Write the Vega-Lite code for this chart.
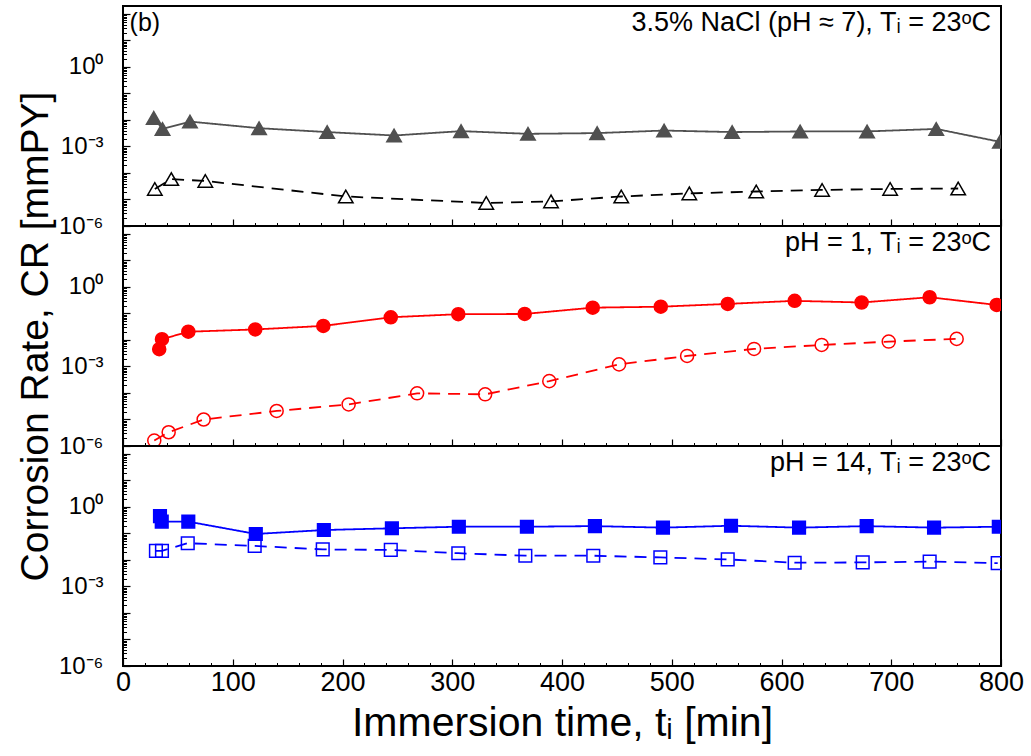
{
  "$schema": "https://vega.github.io/schema/vega-lite/v6.json",
  "background": "white",
  "padding": {"left": 15, "top": 0, "right": 5, "bottom": 5},
  "bounds": "flush",
  "spacing": 0,
  "resolve": {"scale": {"color": "independent", "fill": "independent", "stroke": "independent", "strokeDash": "independent"}},
  "config": {
    "font": "Liberation Sans",
    "view": {"stroke": "black", "strokeWidth": 2},
    "axis": {"domain": false, "grid": false, "tickColor": "black", "labelColor": "black", "titleColor": "black", "labelFont": "Liberation Sans", "titleFont": "Liberation Sans", "titleFontWeight": "normal", "labelOverlap": false, "labelBound": false, "labelFlush": false}
  },
  "datasets": {
    "nacl": [
      {"t": 28, "cr": 0.012, "s": "filled"}, {"t": 36, "cr": 0.0046, "s": "filled"}, {"t": 61, "cr": 0.0087, "s": "filled"}, {"t": 124, "cr": 0.0049, "s": "filled"}, {"t": 186, "cr": 0.0035, "s": "filled"}, {"t": 247, "cr": 0.0026, "s": "filled"}, {"t": 308, "cr": 0.0038, "s": "filled"}, {"t": 369, "cr": 0.003, "s": "filled"}, {"t": 432, "cr": 0.0032, "s": "filled"}, {"t": 493, "cr": 0.004, "s": "filled"}, {"t": 555, "cr": 0.0035, "s": "filled"}, {"t": 617, "cr": 0.0037, "s": "filled"}, {"t": 678, "cr": 0.0037, "s": "filled"}, {"t": 741, "cr": 0.0046, "s": "filled"}, {"t": 799, "cr": 0.0015, "s": "filled"},
      {"t": 29, "cr": 0.000025, "s": "open"}, {"t": 44, "cr": 0.000059, "s": "open"}, {"t": 75, "cr": 0.00005, "s": "open"}, {"t": 203, "cr": 0.000013, "s": "open"}, {"t": 331, "cr": 0.0000074, "s": "open"}, {"t": 390, "cr": 0.0000085, "s": "open"}, {"t": 454, "cr": 0.000013, "s": "open"}, {"t": 516, "cr": 0.000017, "s": "open"}, {"t": 577, "cr": 0.00002, "s": "open"}, {"t": 637, "cr": 0.000023, "s": "open"}, {"t": 699, "cr": 0.000025, "s": "open"}, {"t": 761, "cr": 0.000026, "s": "open"}
    ],
    "ph1": [
      {"t": 33, "cr": 0.0045, "s": "filled"}, {"t": 35.5, "cr": 0.0107, "s": "filled"}, {"t": 59.5, "cr": 0.0205, "s": "filled"}, {"t": 120.5, "cr": 0.025, "s": "filled"}, {"t": 182.5, "cr": 0.034, "s": "filled"}, {"t": 244, "cr": 0.072, "s": "filled"}, {"t": 305.5, "cr": 0.094, "s": "filled"}, {"t": 366, "cr": 0.096, "s": "filled"}, {"t": 428, "cr": 0.166, "s": "filled"}, {"t": 490, "cr": 0.18, "s": "filled"}, {"t": 551, "cr": 0.23, "s": "filled"}, {"t": 612, "cr": 0.3, "s": "filled"}, {"t": 673, "cr": 0.26, "s": "filled"}, {"t": 735, "cr": 0.41, "s": "filled"}, {"t": 796, "cr": 0.21, "s": "filled"},
      {"t": 28.5, "cr": 0.0000016, "s": "open"}, {"t": 41.6, "cr": 0.0000033, "s": "open"}, {"t": 73.5, "cr": 0.00001, "s": "open"}, {"t": 140, "cr": 0.000021, "s": "open"}, {"t": 205.6, "cr": 0.000037, "s": "open"}, {"t": 268, "cr": 0.000097, "s": "open"}, {"t": 330, "cr": 0.000089, "s": "open"}, {"t": 388.4, "cr": 0.00028, "s": "open"}, {"t": 452, "cr": 0.0012, "s": "open"}, {"t": 514, "cr": 0.0025, "s": "open"}, {"t": 575, "cr": 0.0046, "s": "open"}, {"t": 636.6, "cr": 0.0065, "s": "open"}, {"t": 697.7, "cr": 0.0087, "s": "open"}, {"t": 759.6, "cr": 0.011, "s": "open"}
    ],
    "ph14": [
      {"t": 33.7, "cr": 0.45, "s": "filled"}, {"t": 35.3, "cr": 0.28, "s": "filled"}, {"t": 59.5, "cr": 0.28, "s": "filled"}, {"t": 121, "cr": 0.096, "s": "filled"}, {"t": 183, "cr": 0.135, "s": "filled"}, {"t": 245, "cr": 0.157, "s": "filled"}, {"t": 306, "cr": 0.18, "s": "filled"}, {"t": 368, "cr": 0.18, "s": "filled"}, {"t": 430, "cr": 0.19, "s": "filled"}, {"t": 492, "cr": 0.166, "s": "filled"}, {"t": 554, "cr": 0.196, "s": "filled"}, {"t": 616, "cr": 0.166, "s": "filled"}, {"t": 677.6, "cr": 0.19, "s": "filled"}, {"t": 739, "cr": 0.166, "s": "filled"}, {"t": 798, "cr": 0.18, "s": "filled"},
      {"t": 30, "cr": 0.022, "s": "open"}, {"t": 35.5, "cr": 0.022, "s": "open"}, {"t": 59, "cr": 0.043, "s": "open"}, {"t": 120, "cr": 0.034, "s": "open"}, {"t": 182, "cr": 0.025, "s": "open"}, {"t": 244, "cr": 0.024, "s": "open"}, {"t": 305.5, "cr": 0.018, "s": "open"}, {"t": 366.6, "cr": 0.0145, "s": "open"}, {"t": 428.5, "cr": 0.0145, "s": "open"}, {"t": 489.6, "cr": 0.0125, "s": "open"}, {"t": 551, "cr": 0.0105, "s": "open"}, {"t": 612, "cr": 0.0079, "s": "open"}, {"t": 674, "cr": 0.0081, "s": "open"}, {"t": 735, "cr": 0.0087, "s": "open"}, {"t": 797, "cr": 0.0076, "s": "open"}
    ]
  },
  "vconcat": [
    {
      "width": 878, "height": 220,
      "data": {"name": "nacl"},
      "resolve": {"axis": {"x": "independent", "y": "independent"}},
      "layer": [
        {
          "mark": {"type": "line", "strokeWidth": 1.8, "clip": true},
          "encoding": {
            "x": {"field": "t", "type": "quantitative", "scale": {"domain": [0, 800], "nice": false, "zero": false}, "axis": {"orient": "bottom", "values": [0, 100, 200, 300, 400, 500, 600, 700, 800], "labels": false, "tickSize": -7, "tickWidth": 1.2, "title": null}},
            "y": {"field": "cr", "type": "quantitative", "scale": {"type": "log", "domain": [0.000001, 200], "nice": false}, "axis": {"orient": "left", "values": [0.000001, 0.00001, 0.0001, 0.001, 0.01, 0.1, 1, 10, 100], "tickSize": -7, "tickWidth": 1.2, "labelFontSize": 24, "labelPadding": 27, "labelExpr": "datum.value === 1 ? '10⁰' : datum.value === 0.001 ? '10⁻³' : datum.value === 0.000001 ? '10⁻⁶' : ''", "title": null}},
            "color": {"field": "s", "type": "nominal", "scale": {"domain": ["filled", "open"], "range": ["#505050", "#000000"]}, "legend": null},
            "strokeDash": {"field": "s", "type": "nominal", "scale": {"domain": ["filled", "open"], "range": [[1, 0], [12, 8]]}, "legend": null}
          }
        },
        {
          "mark": {"type": "point", "shape": "triangle-up", "size": 210, "strokeWidth": 1.5, "opacity": 1, "clip": true},
          "encoding": {
            "x": {"field": "t", "type": "quantitative", "axis": {"orient": "bottom", "values": [20, 40, 60, 80, 120, 140, 160, 180, 220, 240, 260, 280, 320, 340, 360, 380, 420, 440, 460, 480, 520, 540, 560, 580, 620, 640, 660, 680, 720, 740, 760, 780], "labels": false, "tickSize": -3.5, "tickWidth": 1, "title": null}},
            "y": {"field": "cr", "type": "quantitative", "axis": {"orient": "left", "values": [0.000002, 0.000003, 0.000004, 0.000005, 0.000006, 0.000007, 0.000008, 0.000009, 0.00002, 0.00003, 0.00004, 0.00005, 0.00006, 0.00007, 0.00008, 0.00009, 0.0002, 0.0003, 0.0004, 0.0005, 0.0006, 0.0007, 0.0008, 0.0009, 0.002, 0.003, 0.004, 0.005, 0.006, 0.007, 0.008, 0.009, 0.02, 0.03, 0.04, 0.05, 0.06, 0.07, 0.08, 0.09, 0.2, 0.3, 0.4, 0.5, 0.6, 0.7, 0.8, 0.9, 2, 3, 4, 5, 6, 7, 8, 9, 20, 30, 40, 50, 60, 70, 80, 90], "labels": false, "tickSize": -3.5, "tickWidth": 1, "title": null}},
            "fill": {"field": "s", "type": "nominal", "scale": {"domain": ["filled", "open"], "range": ["#505050", "transparent"]}, "legend": null},
            "stroke": {"field": "s", "type": "nominal", "scale": {"domain": ["filled", "open"], "range": ["#505050", "#000000"]}, "legend": null}
          }
        },
        {
          "data": {"values": [{"label": "3.5% NaCl (pH ≈ 7), Tᵢ = 23ᵒC"}]},
          "mark": {"type": "text", "align": "right", "baseline": "middle", "fontSize": 27, "font": "Liberation Sans", "color": "black"},
          "encoding": {"x": {"datum": 791, "axis": null}, "y": {"datum": 45, "axis": null}, "text": {"field": "label"}}
        },
        {
          "data": {"values": [{"label": "(b)"}]},
          "mark": {"type": "text", "align": "left", "baseline": "middle", "fontSize": 25, "font": "Liberation Sans", "color": "black"},
          "encoding": {"x": {"datum": 6, "axis": null}, "y": {"datum": 45, "axis": null}, "text": {"field": "label"}}
        }
      ]
    },
    {
      "width": 878, "height": 220,
      "data": {"name": "ph1"},
      "resolve": {"axis": {"x": "independent", "y": "independent"}},
      "layer": [
        {
          "mark": {"type": "line", "strokeWidth": 1.8, "clip": true},
          "encoding": {
            "x": {"field": "t", "type": "quantitative", "scale": {"domain": [0, 800], "nice": false, "zero": false}, "axis": {"orient": "bottom", "values": [0, 100, 200, 300, 400, 500, 600, 700, 800], "labels": false, "tickSize": -7, "tickWidth": 1.2, "title": null}},
            "y": {"field": "cr", "type": "quantitative", "scale": {"type": "log", "domain": [0.000001, 200], "nice": false}, "axis": {"orient": "left", "values": [0.000001, 0.00001, 0.0001, 0.001, 0.01, 0.1, 1, 10, 100], "tickSize": -7, "tickWidth": 1.2, "labelFontSize": 24, "labelPadding": 27, "labelExpr": "datum.value === 1 ? '10⁰' : datum.value === 0.001 ? '10⁻³' : datum.value === 0.000001 ? '10⁻⁶' : ''", "title": "Corrosion Rate, CR [mmPY]", "titleFontSize": 39, "titlePadding": 3}},
            "color": {"field": "s", "type": "nominal", "scale": {"domain": ["filled", "open"], "range": ["#ff0000", "#ff0000"]}, "legend": null},
            "strokeDash": {"field": "s", "type": "nominal", "scale": {"domain": ["filled", "open"], "range": [[1, 0], [12, 8]]}, "legend": null}
          }
        },
        {
          "mark": {"type": "point", "shape": "circle", "size": 170, "strokeWidth": 1.5, "opacity": 1, "clip": true},
          "encoding": {
            "x": {"field": "t", "type": "quantitative", "axis": {"orient": "bottom", "values": [20, 40, 60, 80, 120, 140, 160, 180, 220, 240, 260, 280, 320, 340, 360, 380, 420, 440, 460, 480, 520, 540, 560, 580, 620, 640, 660, 680, 720, 740, 760, 780], "labels": false, "tickSize": -3.5, "tickWidth": 1, "title": null}},
            "y": {"field": "cr", "type": "quantitative", "axis": {"orient": "left", "values": [0.000002, 0.000003, 0.000004, 0.000005, 0.000006, 0.000007, 0.000008, 0.000009, 0.00002, 0.00003, 0.00004, 0.00005, 0.00006, 0.00007, 0.00008, 0.00009, 0.0002, 0.0003, 0.0004, 0.0005, 0.0006, 0.0007, 0.0008, 0.0009, 0.002, 0.003, 0.004, 0.005, 0.006, 0.007, 0.008, 0.009, 0.02, 0.03, 0.04, 0.05, 0.06, 0.07, 0.08, 0.09, 0.2, 0.3, 0.4, 0.5, 0.6, 0.7, 0.8, 0.9, 2, 3, 4, 5, 6, 7, 8, 9, 20, 30, 40, 50, 60, 70, 80, 90], "labels": false, "tickSize": -3.5, "tickWidth": 1, "title": null}},
            "fill": {"field": "s", "type": "nominal", "scale": {"domain": ["filled", "open"], "range": ["#ff0000", "transparent"]}, "legend": null},
            "stroke": {"field": "s", "type": "nominal", "scale": {"domain": ["filled", "open"], "range": ["#ff0000", "#ff0000"]}, "legend": null}
          }
        },
        {
          "data": {"values": [{"label": "pH = 1, Tᵢ = 23ᵒC"}]},
          "mark": {"type": "text", "align": "right", "baseline": "middle", "fontSize": 27, "font": "Liberation Sans", "color": "black"},
          "encoding": {"x": {"datum": 791, "axis": null}, "y": {"datum": 45, "axis": null}, "text": {"field": "label"}}
        }
      ]
    },
    {
      "width": 878, "height": 220,
      "data": {"name": "ph14"},
      "resolve": {"axis": {"x": "independent", "y": "independent"}},
      "layer": [
        {
          "mark": {"type": "line", "strokeWidth": 1.8, "clip": true},
          "encoding": {
            "x": {"field": "t", "type": "quantitative", "scale": {"domain": [0, 800], "nice": false, "zero": false}, "axis": {"orient": "bottom", "values": [0, 100, 200, 300, 400, 500, 600, 700, 800], "labels": true, "labelFontSize": 27, "labelPadding": 10, "tickSize": -7, "tickWidth": 1.2, "title": "Immersion time, tᵢ [min]", "titleFontSize": 41, "titlePadding": 8}},
            "y": {"field": "cr", "type": "quantitative", "scale": {"type": "log", "domain": [0.000001, 200], "nice": false}, "axis": {"orient": "left", "values": [0.000001, 0.00001, 0.0001, 0.001, 0.01, 0.1, 1, 10, 100], "tickSize": -7, "tickWidth": 1.2, "labelFontSize": 24, "labelPadding": 27, "labelExpr": "datum.value === 1 ? '10⁰' : datum.value === 0.001 ? '10⁻³' : datum.value === 0.000001 ? '10⁻⁶' : ''", "title": null}},
            "color": {"field": "s", "type": "nominal", "scale": {"domain": ["filled", "open"], "range": ["#0000ff", "#0000ff"]}, "legend": null},
            "strokeDash": {"field": "s", "type": "nominal", "scale": {"domain": ["filled", "open"], "range": [[1, 0], [12, 8]]}, "legend": null}
          }
        },
        {
          "mark": {"type": "point", "shape": "square", "size": 160, "strokeWidth": 1.5, "opacity": 1, "clip": true},
          "encoding": {
            "x": {"field": "t", "type": "quantitative", "axis": {"orient": "bottom", "values": [20, 40, 60, 80, 120, 140, 160, 180, 220, 240, 260, 280, 320, 340, 360, 380, 420, 440, 460, 480, 520, 540, 560, 580, 620, 640, 660, 680, 720, 740, 760, 780], "labels": false, "tickSize": -3.5, "tickWidth": 1, "title": null}},
            "y": {"field": "cr", "type": "quantitative", "axis": {"orient": "left", "values": [0.000002, 0.000003, 0.000004, 0.000005, 0.000006, 0.000007, 0.000008, 0.000009, 0.00002, 0.00003, 0.00004, 0.00005, 0.00006, 0.00007, 0.00008, 0.00009, 0.0002, 0.0003, 0.0004, 0.0005, 0.0006, 0.0007, 0.0008, 0.0009, 0.002, 0.003, 0.004, 0.005, 0.006, 0.007, 0.008, 0.009, 0.02, 0.03, 0.04, 0.05, 0.06, 0.07, 0.08, 0.09, 0.2, 0.3, 0.4, 0.5, 0.6, 0.7, 0.8, 0.9, 2, 3, 4, 5, 6, 7, 8, 9, 20, 30, 40, 50, 60, 70, 80, 90], "labels": false, "tickSize": -3.5, "tickWidth": 1, "title": null}},
            "fill": {"field": "s", "type": "nominal", "scale": {"domain": ["filled", "open"], "range": ["#0000ff", "transparent"]}, "legend": null},
            "stroke": {"field": "s", "type": "nominal", "scale": {"domain": ["filled", "open"], "range": ["#0000ff", "#0000ff"]}, "legend": null}
          }
        },
        {
          "data": {"values": [{"label": "pH = 14, Tᵢ = 23ᵒC"}]},
          "mark": {"type": "text", "align": "right", "baseline": "middle", "fontSize": 27, "font": "Liberation Sans", "color": "black"},
          "encoding": {"x": {"datum": 791, "axis": null}, "y": {"datum": 45, "axis": null}, "text": {"field": "label"}}
        }
      ]
    }
  ]
}
